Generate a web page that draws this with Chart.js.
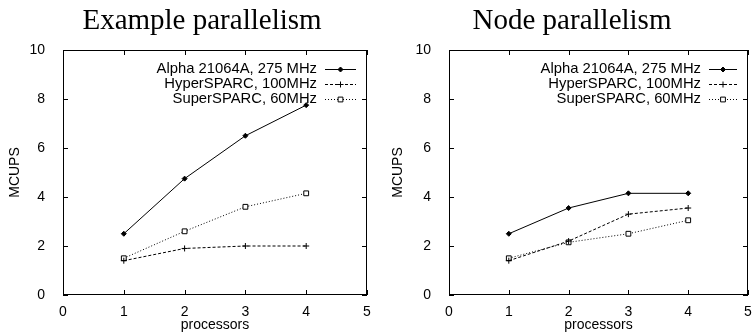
<!DOCTYPE html>
<html>
<head>
<meta charset="utf-8">
<script src="https://cdn.jsdelivr.net/npm/chart.js@4"></script>
<style>
  body{margin:0;background:#fff;}
  .c{position:absolute;top:0;height:334px;}
  #c1{left:0;width:376px;}
  #c2{left:376px;width:377px;}
</style>
</head>
<body>
<div class="c" id="c1"><canvas id="chart-1"></canvas></div>
<div class="c" id="c2"><canvas id="chart-2"></canvas></div>
<script>
const processors = [1, 2, 3, 4]
const seriesNames = ['Alpha 21064A, 275 MHz', 'HyperSPARC, 100MHz', 'SuperSPARC, 60MHz']

const exampleAlpha = [2.5, 4.75, 6.5, 7.75]
const exampleHyper = [1.4, 1.9, 2.0, 2.0]
const exampleSuper = [1.5, 2.6, 3.6, 4.15]

const nodeAlpha = [2.5, 3.55, 4.15, 4.15]
const nodeHyper = [1.4, 2.2, 3.3, 3.55]
const nodeSuper = [1.5, 2.15, 2.5, 3.05]

const xRange = [0, 5]
const yRange = [0, 10]

Chart.defaults.font.family = '"Liberation Sans", Arial, sans-serif'
Chart.defaults.font.size = 14
Chart.defaults.color = '#000'

// gnuplot look: box, inward mirrored ticks, title, legend with samples on the right
const gnuplotFrame = {
  id: 'gnuplotFrame',
  afterDraw(chart, args, opts) {
    const {ctx, chartArea: a, scales: {x, y}} = chart
    ctx.save()
    ctx.strokeStyle = '#000'
    ctx.lineWidth = 1
    ctx.strokeRect(a.left + .5, a.top + .5, a.right - a.left - 1, a.bottom - a.top - 1)

    ctx.beginPath()
    x.ticks.forEach(t => {
      const px = Math.round(x.getPixelForValue(t.value)) + .5
      ctx.moveTo(px, a.bottom); ctx.lineTo(px, a.bottom - 5)
      ctx.moveTo(px, a.top); ctx.lineTo(px, a.top + 5)
    })
    y.ticks.forEach(t => {
      const py = Math.round(y.getPixelForValue(t.value)) + .5
      ctx.moveTo(a.left, py); ctx.lineTo(a.left + 5, py)
      ctx.moveTo(a.right, py); ctx.lineTo(a.right - 5, py)
    })
    ctx.stroke()

    ctx.fillStyle = '#000'
    ctx.font = '29px "Liberation Serif", "Times New Roman", serif'
    ctx.textAlign = 'center'
    ctx.textBaseline = 'alphabetic'
    ctx.fillText(opts.text, opts.x, 29)

    ctx.font = '14.8px "Liberation Sans", Arial, sans-serif'
    ctx.textAlign = 'right'
    ctx.textBaseline = 'middle'
    chart.data.datasets.forEach((ds, i) => {
      const ly = a.top + 19 + i * 15
      ctx.fillStyle = '#000'
      ctx.fillText(ds.label, a.right - opts.textGap, ly)
      const x1 = a.right - opts.textGap + 8, x2 = a.right - 11
      ctx.beginPath()
      ctx.setLineDash(ds.borderDash || [])
      ctx.moveTo(x1, ly + .5); ctx.lineTo(x2, ly + .5)
      ctx.stroke()
      ctx.setLineDash([])
      ctx.fillStyle = ds.pointBackgroundColor
      ctx.strokeStyle = ds.pointBorderColor
      ctx.lineWidth = 1
      Chart.helpers.drawPoint(ctx, {pointStyle: ds.pointStyle, radius: ds.pointRadius, rotation: 0, borderWidth: 1}, (x1 + x2) / 2, ly + .5)
    })
    ctx.restore()
  }
}

function pts(vals){
  return processors.map((p, i) => ({x: p, y: vals[i]}))
}

function make_datasets(alpha, hyper, sup){
  return [
    {label: seriesNames[0], data: pts(alpha), borderColor: '#000', borderWidth: 1,
     pointStyle: 'rectRot', pointRadius: 2.5, pointBackgroundColor: '#000', pointBorderColor: '#000'},
    {label: seriesNames[1], data: pts(hyper), borderColor: '#000', borderWidth: 1, borderDash: [3, 2],
     pointStyle: 'cross', pointRadius: 3, pointBackgroundColor: '#000', pointBorderColor: '#000'},
    {label: seriesNames[2], data: pts(sup), borderColor: '#000', borderWidth: 1, borderDash: [1, 2],
     pointStyle: 'rect', pointRadius: 3.4, pointBackgroundColor: '#fff', pointBorderColor: '#000'}
  ]
}

function gnuplot_chart(id, title, titleX, textGap, yWidth, yTitlePad, rightPad, datasets){
  new Chart(document.getElementById(id), {
    type: 'line',
    data: {datasets},
    plugins: [gnuplotFrame],
    options: {
      responsive: true,
      maintainAspectRatio: false,
      animation: false,
      layout: {padding: {top: 50, right: rightPad, left: 0, bottom: 0}},
      elements: {line: {tension: 0, fill: false}},
      plugins: {
        legend: {display: false},
        tooltip: {enabled: false},
        gnuplotFrame: {text: title, x: titleX, textGap}
      },
      scales: {
        x: {
          type: 'linear', min: xRange[0], max: xRange[1],
          ticks: {stepSize: 1, padding: 1, maxRotation: 0},
          grid: {display: false}, border: {display: false},
          title: {display: true, text: 'processors', padding: 0},
          afterFit: s => { s.height = 39; s.paddingLeft = 0; s.paddingRight = 0 }
        },
        y: {
          min: yRange[0], max: yRange[1],
          ticks: {stepSize: 2, padding: 10},
          grid: {display: false}, border: {display: false},
          title: {display: true, text: 'MCUPS', padding: yTitlePad},
          afterFit: s => { s.width = yWidth; s.paddingTop = 0; s.paddingBottom = 0 }
        }
      }
    }
  })
}

gnuplot_chart('chart-1', 'Example parallelism', 202, 50, 63, 7, 9,
  make_datasets(exampleAlpha, exampleHyper, exampleSuper))
gnuplot_chart('chart-2', 'Node parallelism', 196, 47, 73, 14, 3,
  make_datasets(nodeAlpha, nodeHyper, nodeSuper))
</script>
</body>
</html>
